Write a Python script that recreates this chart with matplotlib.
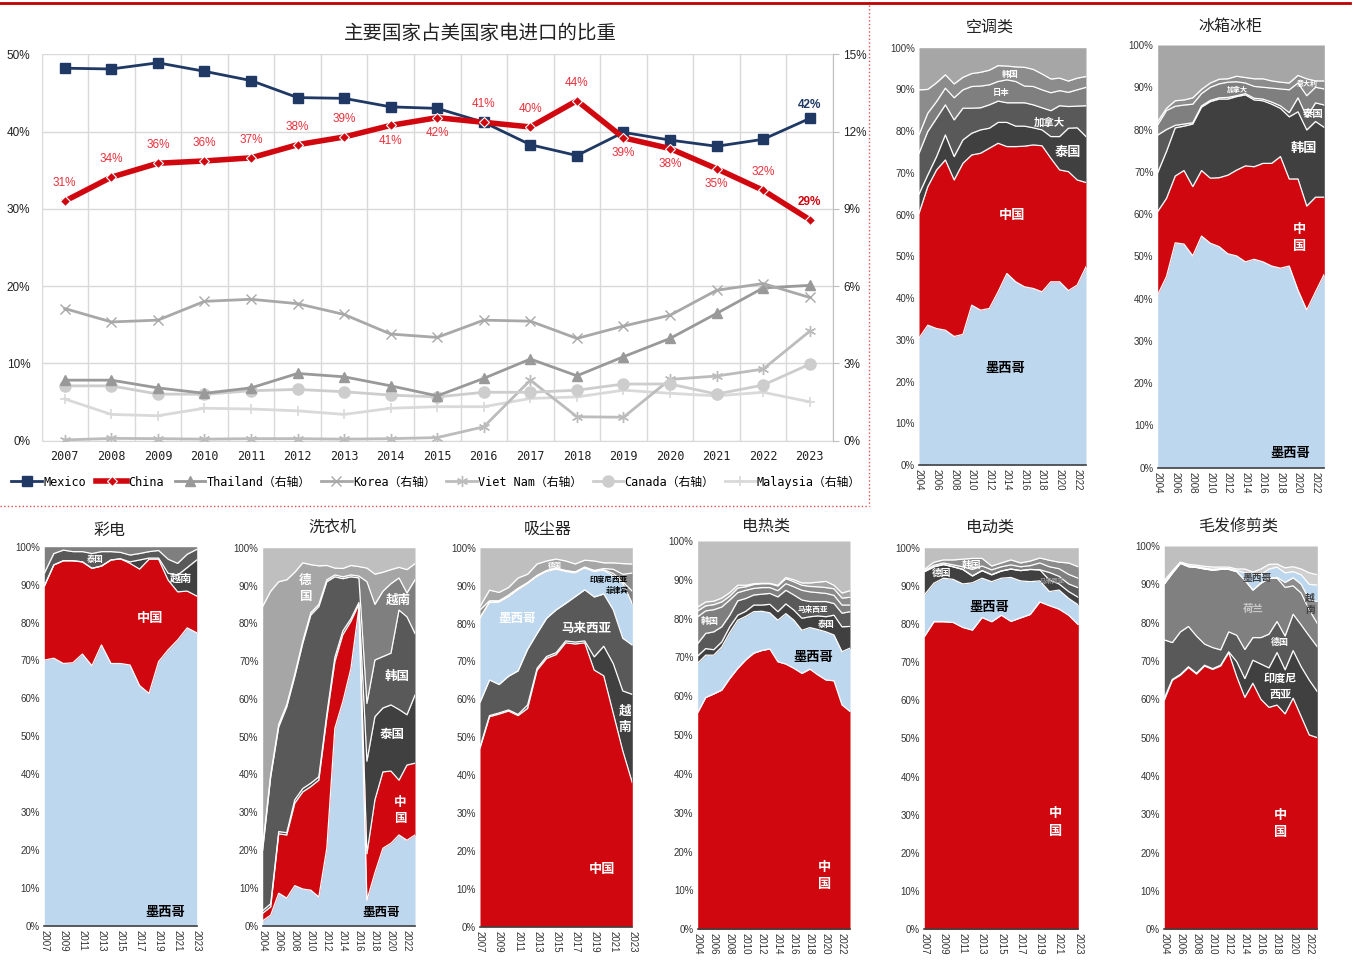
import matplotlib
matplotlib.use("Agg")
import matplotlib.pyplot as plt
import numpy as np
from matplotlib.lines import Line2D
from matplotlib.ticker import FuncFormatter, MultipleLocator

plt.rcParams.update(
    {
        "font.family": ["Liberation Sans", "Noto Sans CJK SC"],
        "font.size": 8,
        "axes.unicode_minus": False,
    }
)

W, H = 1354, 961
CJK = ["Noto Sans CJK SC", "DejaVu Sans"]
MONO = ["DejaVu Sans Mono", "Noto Sans CJK SC"]

# ---------------- main line chart data ----------------
years = [str(y) for y in range(2007, 2024)]
mexico = [48.2, 48.1, 48.9, 47.8, 46.6, 44.4, 44.3, 43.2, 43.0, 41.2, 38.3, 36.9, 39.9, 38.9, 38.1, 39.0, 41.7]
china = [31.0, 34.1, 35.9, 36.2, 36.6, 38.3, 39.3, 40.8, 41.8, 41.2, 40.6, 44.0, 39.2, 37.8, 35.2, 32.4, 28.6]
china_labels = ["31%", "34%", "36%", "36%", "37%", "38%", "39%", "41%", "42%", "41%", "40%", "44%", "39%", "38%", "35%", "32%", "29%"]
china_label_above = [1, 1, 1, 1, 1, 1, 1, 0, 0, 1, 1, 1, 0, 0, 0, 1, 1]
thailand = [2.35, 2.35, 2.05, 1.84, 2.05, 2.61, 2.48, 2.13, 1.74, 2.42, 3.17, 2.52, 3.26, 3.97, 4.94, 5.93, 6.03]
korea = [5.13, 4.61, 4.68, 5.41, 5.49, 5.32, 4.90, 4.14, 4.01, 4.68, 4.64, 3.97, 4.45, 4.87, 5.84, 6.10, 5.56]
vietnam = [0.03, 0.09, 0.08, 0.06, 0.08, 0.08, 0.06, 0.08, 0.12, 0.54, 2.35, 0.93, 0.91, 2.38, 2.51, 2.78, 4.25]
canada = [2.13, 2.13, 1.81, 1.80, 1.94, 1.99, 1.90, 1.77, 1.70, 1.88, 1.88, 1.96, 2.20, 2.20, 1.81, 2.16, 2.97]
malaysia = [1.62, 1.02, 0.97, 1.26, 1.23, 1.16, 1.02, 1.26, 1.32, 1.32, 1.64, 1.70, 1.96, 1.84, 1.74, 1.88, 1.51]

# ---------------- stacked share panels (cumulative tops, %) ----------------
ac_years = list(range(2004, 2024))
ac_names = ["墨西哥", "中国", "泰国", "加拿大", "日本", "韩国"]
ac_tops = [
    [30.4, 33.5, 32.7, 32.3, 30.8, 31.3, 38.3, 37.1, 37.5, 41.5, 45.9, 43.9, 42.7, 42.3, 41.5, 43.9, 43.9, 41.8, 43.1, 47.5],
    [60.3, 66.7, 70.7, 73.1, 68.3, 72.3, 74.3, 74.7, 75.9, 77.1, 76.3, 76.3, 76.4, 76.7, 76.5, 73.5, 70.7, 70.3, 68.3, 67.7],
    [64.9, 69.5, 73.9, 79.1, 73.9, 77.9, 79.5, 80.3, 80.7, 82.1, 82.1, 81.2, 81.2, 80.8, 80.3, 78.7, 78.7, 80.7, 80.8, 78.7],
    [74.7, 79.9, 83.1, 86.3, 82.7, 85.5, 85.5, 85.6, 86.3, 87.2, 86.8, 86.8, 86.8, 86.3, 85.6, 84.9, 86.1, 85.9, 86.0, 86.1],
    [79.1, 84.3, 87.1, 90.3, 88.0, 89.9, 90.7, 90.8, 91.1, 91.9, 92.3, 91.9, 90.8, 90.7, 89.9, 89.2, 89.7, 89.3, 89.9, 90.5],
    [89.9, 90.0, 91.6, 93.5, 91.3, 92.9, 93.8, 94.1, 94.6, 95.7, 95.6, 95.4, 95.3, 94.8, 93.7, 92.5, 92.7, 92.0, 92.7, 93.1],
]

fr_years = list(range(2004, 2024))
fr_names = ["墨西哥", "中国", "韩国", "泰国", "加拿大", "意大利"]
fr_tops = [
    [40.9, 45.2, 53.2, 52.9, 50.1, 54.8, 53.1, 52.3, 50.6, 50.1, 48.7, 49.3, 48.7, 47.7, 47.2, 47.7, 42.0, 37.3, 41.6, 45.8],
    [60.6, 63.7, 69.0, 70.3, 66.5, 70.3, 68.5, 68.6, 69.2, 70.4, 71.4, 71.2, 72.0, 72.0, 73.6, 68.3, 68.3, 61.9, 64.0, 64.0],
    [69.8, 74.8, 80.4, 80.8, 81.3, 85.3, 86.6, 87.2, 87.2, 87.8, 88.2, 87.0, 86.8, 86.0, 85.0, 83.0, 84.2, 79.9, 81.9, 80.5],
    [78.7, 80.0, 81.0, 81.3, 81.6, 85.6, 86.9, 87.5, 87.6, 88.0, 88.5, 87.4, 87.2, 86.5, 85.6, 84.0, 87.5, 83.0, 86.3, 85.8],
    [81.1, 84.5, 85.5, 85.8, 86.0, 88.5, 90.0, 90.8, 91.2, 91.3, 91.0, 90.2, 90.0, 89.8, 89.6, 89.4, 91.0, 88.0, 90.0, 89.6],
    [81.9, 85.0, 86.8, 87.0, 87.5, 89.5, 91.0, 91.9, 92.0, 92.6, 92.3, 92.0, 92.0, 91.5, 91.2, 91.0, 92.8, 92.0, 91.5, 91.5],
]

tv_years = list(range(2007, 2024))
tv_names = ["墨西哥", "中国", "越南", "泰国"]
tv_tops = [
    [70.1, 70.6, 69.2, 69.4, 71.7, 68.6, 74.1, 69.2, 69.2, 68.8, 63.4, 61.3, 69.7, 72.8, 75.4, 78.6, 77.3],
    [89.6, 95.2, 96.3, 96.3, 96.0, 94.3, 94.9, 96.5, 96.8, 95.6, 94.1, 96.7, 96.7, 91.2, 88.1, 88.3, 87.0],
    [89.6, 95.2, 96.3, 96.3, 96.0, 94.3, 94.9, 96.5, 96.8, 96.0, 96.5, 97.0, 97.0, 93.0, 92.5, 94.5, 96.5],
    [93.0, 98.2, 99.1, 98.7, 98.7, 98.2, 98.7, 98.7, 98.5, 97.8, 98.2, 98.7, 99.0, 96.7, 95.6, 98.0, 99.3],
]

wm_years = list(range(2004, 2024))
wm_names = ["墨西哥", "中国", "泰国", "韩国", "越南", "德国"]
wm_tops = [
    [1.3, 2.8, 8.6, 7.3, 10.6, 9.7, 9.4, 7.6, 20.5, 52.2, 59.3, 68.0, 84.0, 6.7, 14.0, 20.5, 21.8, 24.0, 22.6, 24.0],
    [3.3, 5.0, 24.3, 24.0, 32.4, 35.4, 36.8, 38.5, 55.0, 69.8, 77.0, 80.5, 85.0, 19.0, 33.3, 40.7, 40.9, 38.5, 42.5, 43.0],
    [4.0, 5.8, 24.9, 24.6, 33.3, 36.3, 37.7, 39.4, 56.0, 71.0, 78.0, 81.2, 85.5, 43.5, 55.3, 57.6, 58.4, 57.2, 55.8, 61.0],
    [20.0, 39.4, 52.6, 57.9, 65.9, 74.7, 82.2, 84.4, 91.0, 92.3, 91.8, 92.3, 92.0, 58.8, 70.3, 71.2, 72.1, 83.5, 81.7, 77.3],
    [21.0, 40.0, 53.3, 58.5, 66.5, 75.3, 82.8, 85.0, 91.5, 92.8, 92.3, 92.8, 92.5, 91.0, 85.0, 88.5, 90.5, 92.0, 88.0, 91.5],
    [84.5, 88.5, 91.0, 91.5, 93.5, 96.0, 95.5, 95.2, 95.3, 94.6, 94.5, 95.3, 95.0, 94.6, 93.0, 93.5, 94.2, 94.8, 94.2, 95.8],
]

vc_years = list(range(2007, 2024))
vc_names = ["中国", "越南", "马来西亚", "墨西哥", "菲律宾", "印度尼西亚", "德国"]
vc_tops = [
    [47.1, 55.4, 56.1, 56.9, 55.7, 57.6, 67.7, 70.8, 71.8, 74.9, 74.6, 74.9, 67.7, 66.2, 56.3, 46.4, 38.0],
    [47.4, 55.7, 56.4, 57.2, 56.0, 58.5, 68.2, 71.3, 72.3, 75.4, 75.1, 75.4, 71.2, 74.0, 69.4, 62.2, 61.3],
    [59.2, 65.1, 63.9, 66.1, 67.5, 73.2, 77.4, 81.4, 83.6, 85.3, 87.1, 88.9, 87.0, 87.8, 83.6, 76.1, 74.3],
    [81.4, 85.5, 85.6, 87.0, 88.9, 90.5, 92.4, 93.7, 94.3, 93.7, 93.3, 94.6, 93.7, 94.0, 92.6, 90.7, 85.2],
    [81.6, 85.7, 85.8, 87.2, 89.1, 90.7, 92.6, 93.9, 94.5, 93.9, 93.5, 94.8, 93.9, 94.2, 93.2, 91.0, 88.5],
    [83.6, 86.0, 86.0, 87.5, 89.3, 90.8, 92.7, 94.0, 94.6, 94.0, 93.6, 94.9, 94.0, 94.5, 94.3, 93.0, 93.3],
    [84.5, 88.8, 88.2, 89.5, 92.0, 93.0, 95.7, 96.5, 97.0, 96.5, 95.7, 96.7, 96.5, 96.0, 96.0, 95.8, 95.7],
]

eh_years = list(range(2004, 2024))
eh_names = ["中国", "墨西哥", "泰国", "马来西亚", "韩国", "其他1", "其他2"]
eh_tops = [
    [55.8, 59.7, 60.6, 61.6, 64.6, 67.2, 69.4, 71.1, 71.8, 72.2, 68.9, 68.3, 67.2, 65.9, 67.0, 65.5, 64.2, 64.0, 57.8, 56.1],
    [68.5, 70.6, 70.6, 72.7, 76.4, 79.6, 80.6, 81.8, 81.9, 81.5, 79.6, 81.3, 79.6, 77.0, 77.7, 77.2, 76.6, 75.8, 71.5, 72.4],
    [70.4, 72.3, 72.0, 74.0, 77.9, 80.9, 81.9, 83.5, 83.5, 83.7, 81.8, 83.8, 82.2, 80.1, 80.5, 80.7, 80.5, 80.9, 77.9, 78.0],
    [73.6, 76.2, 76.6, 77.9, 80.9, 84.6, 85.2, 86.1, 86.3, 86.5, 85.6, 87.3, 86.1, 84.8, 84.4, 84.4, 84.4, 83.9, 81.4, 81.8],
    [80.5, 82.0, 82.3, 83.0, 84.8, 86.7, 87.3, 87.8, 88.0, 88.0, 87.2, 89.0, 88.2, 87.3, 86.9, 86.7, 86.5, 86.0, 83.5, 83.5],
    [82.0, 83.3, 83.6, 84.3, 85.8, 87.9, 88.2, 88.8, 89.0, 89.0, 88.4, 90.3, 89.5, 88.6, 88.3, 88.2, 88.0, 87.7, 85.3, 85.5],
    [83.0, 84.3, 84.5, 85.3, 86.7, 88.6, 88.6, 89.0, 89.1, 89.1, 88.6, 90.6, 90.0, 89.2, 89.2, 89.4, 89.6, 88.6, 86.6, 87.2],
]

em_years = list(range(2007, 2024))
em_names = ["中国", "墨西哥", "德国", "越南", "马来西亚", "韩国"]
em_tops = [
    [76.7, 80.6, 80.6, 80.4, 79.1, 78.4, 81.7, 80.6, 82.3, 80.7, 81.6, 82.5, 85.8, 84.8, 83.9, 82.3, 79.8],
    [87.6, 90.7, 92.0, 91.7, 90.5, 90.8, 92.0, 91.1, 92.0, 92.2, 91.3, 91.1, 91.3, 88.5, 88.9, 86.7, 85.0],
    [93.7, 95.0, 95.6, 95.0, 94.3, 92.6, 94.0, 92.9, 93.9, 94.4, 94.0, 94.3, 94.2, 91.5, 90.5, 88.5, 87.0],
    [93.7, 95.0, 95.6, 95.0, 94.3, 92.6, 94.0, 92.9, 93.9, 94.4, 94.0, 94.3, 94.2, 93.5, 92.5, 90.5, 89.5],
    [94.0, 95.4, 96.0, 95.5, 95.0, 94.3, 95.2, 94.2, 95.0, 95.5, 95.0, 95.3, 96.0, 95.0, 94.5, 93.0, 92.0],
    [94.3, 96.2, 96.8, 96.8, 97.0, 97.2, 97.2, 95.2, 96.0, 96.8, 96.0, 96.5, 97.3, 96.7, 96.2, 96.0, 95.0],
]

hc_years = list(range(2004, 2024))
hc_names = ["中国", "印度尼西亚", "德国", "荷兰", "越南", "墨西哥", "其他"]
hc_tops = [
    [59.8, 65.0, 66.3, 68.3, 66.6, 68.7, 67.8, 68.7, 72.2, 65.9, 60.5, 64.2, 60.0, 57.9, 58.5, 56.2, 60.3, 55.5, 50.7, 50.0],
    [60.3, 65.2, 66.5, 68.5, 66.8, 68.9, 68.0, 68.9, 72.4, 69.8, 65.4, 70.2, 69.2, 68.2, 72.2, 67.7, 72.7, 68.5, 65.0, 62.0],
    [75.5, 74.8, 77.6, 79.0, 76.5, 74.4, 73.5, 72.9, 77.6, 76.7, 73.0, 76.1, 76.1, 77.0, 80.3, 76.5, 82.2, 79.4, 76.5, 73.7],
    [90.1, 92.9, 95.5, 94.6, 94.4, 94.0, 93.7, 93.9, 93.9, 93.3, 91.1, 88.5, 90.3, 91.6, 91.6, 89.2, 89.6, 87.7, 83.3, 79.8],
    [90.1, 92.9, 95.5, 94.6, 94.4, 94.0, 93.7, 93.9, 93.9, 93.3, 91.1, 88.5, 90.3, 91.6, 91.8, 90.5, 91.7, 90.0, 86.0, 85.5],
    [90.4, 93.2, 95.6, 94.8, 94.6, 94.2, 93.9, 94.1, 94.1, 93.6, 93.0, 92.8, 92.5, 94.0, 94.5, 93.0, 93.3, 92.5, 90.0, 89.8],
    [91.0, 93.5, 95.8, 95.2, 95.0, 94.7, 94.5, 94.5, 94.5, 94.0, 94.0, 93.2, 94.0, 95.2, 95.3, 94.3, 94.6, 94.0, 93.0, 92.5],
]

RED = "#d0070f"
BLUE = "#bdd7ee"
PCT = FuncFormatter(lambda v, p: f"{v:.0f}%")


def rect(l, t, r, b):
    return [l / W, 1 - b / H, (r - l) / W, (b - t) / H]


def panel(box, title, title_xy, yrs, tops, colors, top_color, labels):
    ax = fig.add_axes(rect(*box))
    yrs = np.array(yrs)
    lower = np.zeros(len(yrs))
    for top, c in zip(tops, colors):
        ax.fill_between(yrs, lower, top, color=c, lw=0)
        lower = np.array(top)
    ax.fill_between(yrs, lower, 100, color=top_color, lw=0)
    for top in tops:
        ax.plot(yrs, top, color="white", lw=0.9)
    ax.set_xlim(yrs[0], yrs[-1])
    ax.set_ylim(0, 100)
    ax.yaxis.set_major_locator(MultipleLocator(10))
    ax.yaxis.set_major_formatter(PCT)
    ax.set_xticks(yrs[::2])
    ax.set_xticklabels([str(y) for y in yrs[::2]], rotation=-90)
    ax.tick_params(length=0, labelsize=7, colors="#333333", pad=3)
    for s in ["top", "right", "left"]:
        ax.spines[s].set_visible(False)
    ax.spines["bottom"].set_color("#404040")
    ax.spines["bottom"].set_linewidth(1.2)
    fig.text(title_xy[0] / W, 1 - title_xy[1] / H, title, ha="center", va="center",
             fontsize=11.5, family=CJK, color="#222222")
    for x, y, s, c, fs in labels:
        ax.text(x, y, s, ha="center", va="center", color=c, fontsize=fs,
                fontweight="bold", family=CJK, linespacing=1.3)
    return ax


fig = plt.figure(figsize=(W / 100, H / 100), dpi=100)

# ---------------- main chart ----------------
ax = fig.add_axes(rect(41.5, 54.3, 833, 440.7))
x = np.arange(len(years))
ax.set_xlim(-0.5, len(years) - 0.5)
ax.set_ylim(0, 50)
ax.set_yticks(np.arange(0, 51, 10))
ax.yaxis.set_major_formatter(PCT)
ax.set_xticks(x)
ax.set_xticklabels(years, family=MONO, fontsize=8.5, color="#222222")
ax.set_xticks(np.arange(-0.5, len(years), 1), minor=True)
ax.grid(True, axis="y", color="#d9d9d9", lw=1)
ax.grid(True, axis="x", which="minor", color="#d9d9d9", lw=1)
ax.tick_params(axis="both", which="both", length=0)
ax.tick_params(axis="y", labelsize=8.5, colors="#222222", pad=8)
ax.tick_params(axis="x", pad=7)
for s in ["top", "right", "left"]:
    ax.spines[s].set_visible(False)
ax.spines["bottom"].set_color("#d9d9d9")
ax.set_axisbelow(True)

ax2 = ax.twinx()
ax2.set_ylim(0, 15)
ax2.set_yticks(np.arange(0, 16, 3))
ax2.yaxis.set_major_formatter(PCT)
ax2.tick_params(axis="y", labelsize=8.5, colors="#222222", length=4, color="#bfbfbf")
for s in ["top", "left", "bottom"]:
    ax2.spines[s].set_visible(False)
ax2.spines["right"].set_color("#bfbfbf")

h_mal, = ax2.plot(x, malaysia, color="#d9d9d9", lw=2, marker="+", ms=7, mew=1.2, label="Malaysia（右轴）")
h_vn, = ax2.plot(x, vietnam, color="#bcbcbc", lw=2, marker=(6, 2, 0), ms=8, mew=1, label="Viet Nam（右轴）")
h_ca, = ax2.plot(x, canada, color="#cdcdcd", lw=2, marker="o", ms=8, label="Canada（右轴）")
h_th, = ax2.plot(x, thailand, color="#999999", lw=2, marker="^", ms=7, label="Thailand（右轴）")
h_kr, = ax2.plot(x, korea, color="#a8a8a8", lw=2, marker="x", ms=7, mew=1, label="Korea（右轴）")
# Mexico / China are on the left axis (0-50%); drawn on ax2 after rescaling so they sit on top
h_mx, = ax2.plot(x, np.array(mexico) * 0.3, color="#1f3864", lw=2, marker="s", ms=7, label="Mexico")
h_cn, = ax2.plot(x, np.array(china) * 0.3, color=RED, lw=4, marker="D", ms=5, mfc=RED, mec="white",
                 mew=0.8, label="China")

for i in range(len(years)):
    off = 13 if china_label_above[i] else -11
    last = i == len(years) - 1
    ax2.annotate(china_labels[i], (x[i], china[i] * 0.3), xytext=(0, off), textcoords="offset points",
                 ha="center", va="center", fontsize=8.5, color=RED if last else "#e8323c",
                 fontweight="bold" if last else "normal")
ax2.annotate("42%", (x[-1], mexico[-1] * 0.3), xytext=(0, 10), textcoords="offset points",
             ha="center", va="center", fontsize=8.5, color="#1f3864", fontweight="bold")

fig.text(480 / W, 1 - 33 / H, "主要国家占美国家电进口的比重", ha="center", va="center",
         fontsize=14, family=CJK, color="#222222")

fig.legend(handles=[h_mx, h_cn, h_th, h_kr, h_vn, h_ca, h_mal], loc="center",
           bbox_to_anchor=(436 / W, 1 - 482 / H), ncol=7, frameon=False,
           prop={"family": MONO, "size": 8.5}, handlelength=2.6, columnspacing=0.9, handletextpad=0.1)

# ---------------- stacked panels ----------------
g1, g2, g3, g4, g5 = "#404040", "#595959", "#7f7f7f", "#8c8c8c", "#a6a6a6"

panel((919, 47.7, 1086, 465), "空调类", (990, 27), ac_years, ac_tops,
      [BLUE, RED, g1, g2, g3, g4], "#a6a6a6",
      [(2014.6, 59.9, "中国", "white", 9.5), (2013.8, 23.2, "墨西哥", "black", 9.5),
       (2020.9, 75.1, "泰国", "white", 9.5), (2018.8, 82.0, "加拿大", "white", 7.5),
       (2013.3, 89.3, "日本", "white", 6), (2014.4, 93.7, "韩国", "white", 6)])

panel((1157.7, 45, 1324.3, 467.7), "冰箱冰柜", (1230, 26), fr_years, fr_tops,
      [BLUE, RED, g1, g2, g3, g4], "#a6a6a6",
      [(2019.1, 3.4, "墨西哥", "black", 9.5), (2020.2, 54.5, "中\n国", "white", 9.5),
       (2020.7, 75.6, "韩国", "white", 9.5), (2021.7, 83.7, "泰国", "white", 7.5),
       (2021.1, 91.0, "意大利", "white", 5), (2013.1, 89.4, "加拿大", "white", 5)])

panel((44.3, 546.7, 196.7, 926), "彩电", (110, 530), tv_years, tv_tops,
      [BLUE, RED, g1, g2], "#7f7f7f",
      [(2019.7, 3.8, "墨西哥", "black", 9.5), (2018.1, 81.1, "中国", "white", 9.5),
       (2021.4, 91.6, "越南", "white", 8), (2012.3, 96.7, "泰国", "white", 6)])

panel((262.7, 547.7, 415, 925.7), "洗衣机", (332, 527), wm_years, wm_tops,
      [BLUE, RED, g1, g2, g3, g5], "#bfbfbf",
      [(2018.8, 3.5, "墨西哥", "black", 9), (2021.2, 30.6, "中\n国", "white", 9),
       (2020.2, 50.7, "泰国", "white", 9), (2020.7, 65.9, "韩国", "white", 9),
       (2020.9, 86.2, "越南", "white", 9), (2009.3, 89.2, "德\n国", "white", 9)])

panel((480, 547.7, 632.3, 926.7), "吸尘器", (548, 529), vc_years, vc_tops,
      [RED, g1, g2, BLUE, g3, g4, g5], "#bfbfbf",
      [(2019.8, 15.1, "中国", "white", 9.5), (2022.2, 54.8, "越\n南", "white", 9),
       (2018.2, 78.7, "马来西亚", "white", 9), (2010.9, 81.4, "墨西哥", "white", 9),
       (2020.5, 91.6, "印度尼西亚", "black", 5.5), (2021.4, 88.6, "菲律宾", "black", 5.5),
       (2014.9, 95.4, "德国", "white", 5)])

panel((697.7, 541, 850, 929.3), "电热类", (766, 526), eh_years, eh_tops,
      [RED, BLUE, g1, g2, g3, g4, g5], "#bfbfbf",
      [(2019.8, 13.8, "中\n国", "white", 9.5), (2018.4, 70.2, "墨西哥", "black", 9.5),
       (2020.0, 78.4, "泰国", "white", 6), (2018.4, 82.4, "马来西亚", "white", 5.5),
       (2005.5, 79.2, "韩国", "white", 6.5)])

panel((924.3, 547.7, 1078.3, 929.3), "电动类", (990, 527), em_years, em_tops,
      [RED, BLUE, g1, g2, g3, g4], "#bfbfbf",
      [(2020.6, 28.1, "中\n国", "white", 9.5), (2013.8, 84.5, "墨西哥", "black", 9.5),
       (2008.8, 93.4, "德国", "white", 7), (2011.9, 95.6, "韩国", "white", 7),
       (2020.3, 91.3, "马来西亚", "#9a9a9a", 4.5)])

panel((1164.3, 546, 1317.3, 929.3), "毛发修剪类", (1238, 527), hc_years, hc_tops,
      [RED, g1, g2, "#808080", "#8c8c8c", BLUE, "#d0d0d0"], "#bfbfbf",
      [(2018.4, 27.6, "中\n国", "white", 9.5), (2018.4, 63.4, "印度尼\n西亚", "white", 8),
       (2018.4, 74.8, "德国", "white", 6.5), (2015.0, 83.5, "荷兰", "#c8c8c8", 7.5),
       (2015.5, 91.6, "墨西哥", "#404040", 7), (2022.1, 84.8, "越\n南", "#404040", 7)])

# ---------------- frame lines ----------------
fig.add_artist(Line2D([0, 1350 / W], [1 - 3 / H] * 2, color="#c00000", lw=2))
fig.add_artist(Line2D([869 / W] * 2, [1 - 5 / H, 1 - 506 / H], color="#e05050", lw=1, ls=":"))
fig.add_artist(Line2D([0, 869 / W], [1 - 506 / H] * 2, color="#e05050", lw=1, ls=":"))

fig.savefig("out.png", dpi=100)
